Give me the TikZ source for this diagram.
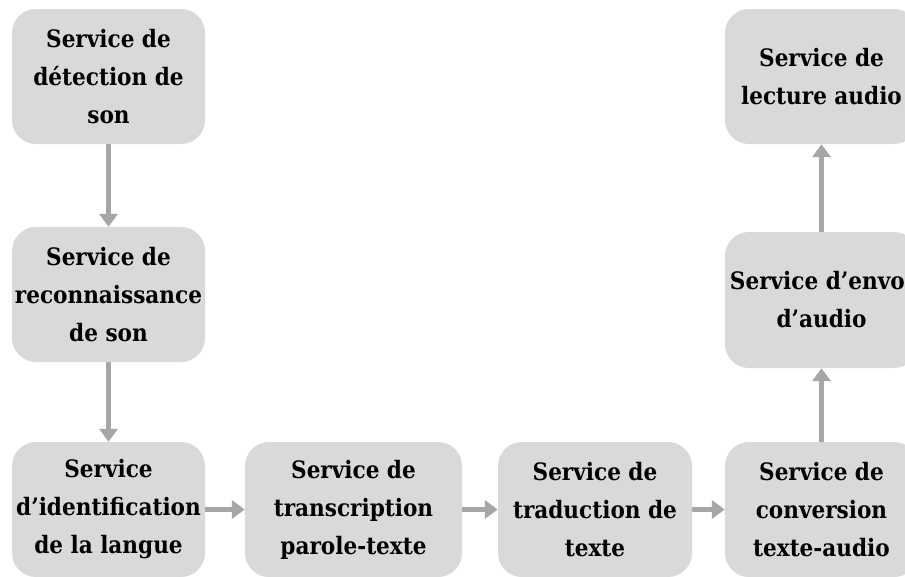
\documentclass[tikz,border=0pt]{standalone}
\usepackage{fontspec}
\setmainfont{DejaVu Serif Condensed}
\usetikzlibrary{arrows.meta}
\definecolor{boxfill}{HTML}{D9D9D9}
\definecolor{linkgray}{HTML}{A6A6A6}
\tikzset{
  svc/.style={draw=none, fill=boxfill, rounded corners=24pt,
    minimum width=193pt, minimum height=135pt, inner sep=0pt,
    align=center, font=\fontsize{24}{38}\selectfont\bfseries, text=black},
  link/.style={draw=linkgray, line width=4.5pt,
    -{Triangle[length=13pt,width=18pt]}}
}
\begin{document}
\begin{tikzpicture}[x=1pt, y=-1pt]
  \useasboundingbox (0,0) rectangle (905,576);
  \clip (0,0) rectangle (905,576);
  % left column, top to bottom
  \node[svc] (detect) at (108.5,76.5) {Service de\\détection de\\son};
  \node[svc] (recog) at (108.5,294.5) {Service de\\reconnaissance\\de son};
  \node[svc] (ident) at (108.5,509.5) {Service\\d’identification\\de la langue};
  % bottom row
  \node[svc, minimum width=217pt] (transc) at (353.5,509.5) {Service de\\transcription\\parole-texte};
  \node[svc, minimum width=194pt] (transl) at (595,509.5) {Service de\\traduction de\\texte};
  \node[svc] (convert) at (821.5,509.5) {Service de\\conversion\\texte-audio};
  % right column, bottom to top
  \node[svc, minimum height=136pt] (send) at (821.5,300) {Service d’envoi\\d’audio};
  \node[svc] (play) at (821.5,76.5) {Service de\\lecture audio};
  % connectors
  \draw[link] (detect) -- (recog);
  \draw[link] (recog) -- (ident);
  \draw[link] (ident) -- (transc);
  \draw[link] (transc) -- (transl);
  \draw[link] (transl) -- (convert);
  \draw[link] (convert) -- (send);
  \draw[link] (send) -- (play);
\end{tikzpicture}
\end{document}
